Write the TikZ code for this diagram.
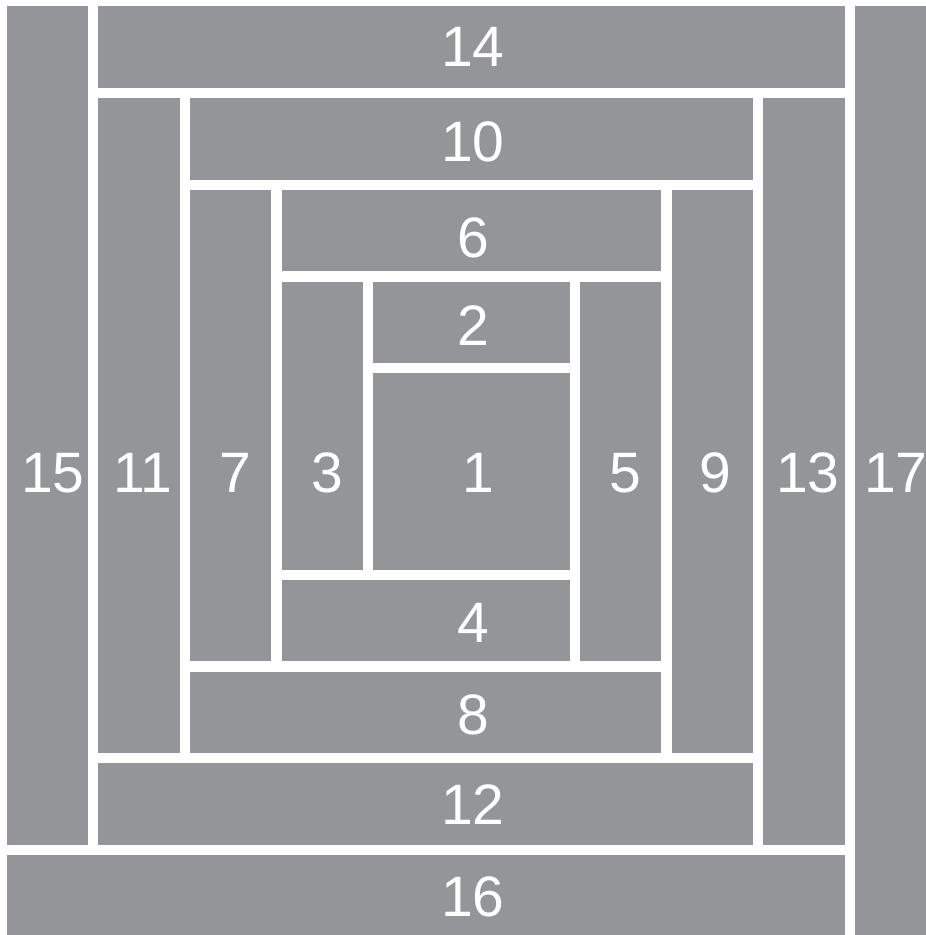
\documentclass[tikz,border=0pt]{standalone}
\usepackage{fontspec}
\setmainfont{Liberation Sans}
\definecolor{quilt}{RGB}{147,149,152}
\begin{document}
\begin{tikzpicture}[x=1pt,y=-1pt,
  piece/.style={fill=quilt, draw=none, inner sep=0pt},
  num/.style={text=white, inner sep=0pt, font=\fontsize{57}{57}\selectfont}]
\useasboundingbox (0,0) rectangle (926,935);
\foreach \n/\a/\b/\c/\d in {
  1/373/373/570/570,
  2/373/282/570/363,
  3/282/282/363/570,
  4/282/580/570/661,
  5/580/282/661/661,
  6/282/190/661/271,
  7/190/190/271/661,
  8/190/672/661/753,
  9/672/190/753/753,
  10/190/98/753/180,
  11/98/98/180/753,
  12/98/763/753/845,
  13/763/98/845/845,
  14/98/6/845/88,
  15/7/6/88/845,
  16/7/855/845/935,
  17/855/6/926/935}
  \node[piece, minimum width={\c-\a}, minimum height={\d-\b}] (p\n) at ({(\a+\c)/2},{(\b+\d)/2}) {};
\foreach \n/\x/\y in {
  1/478/473, 2/473/326, 3/327/473, 4/473/623, 5/625/473,
  6/473/238, 7/235/473, 8/473/715, 9/715/473, 10/473/142,
  11/143/473, 12/473/805, 13/808/473, 14/473/47, 15/53/473,
  16/473/897, 17/896/473}
  \node[num] (l\n) at (\x,\y) {\n};
\end{tikzpicture}
\end{document}
